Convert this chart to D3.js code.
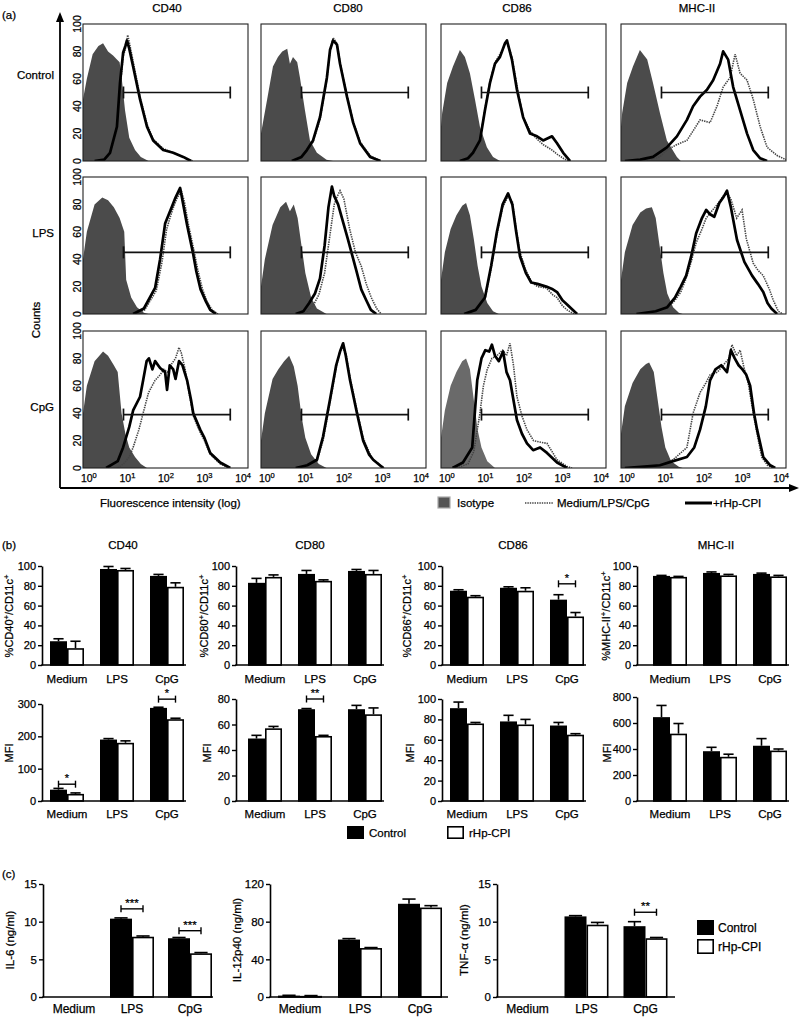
<!DOCTYPE html>
<html><head><meta charset="utf-8">
<script src="https://cdn.jsdelivr.net/npm/d3@7"></script>
<style>
body{margin:0;background:#fff;}
svg{display:block;font-family:"Liberation Sans",Arial,Helvetica,sans-serif;}
svg text{stroke:#000;stroke-width:0.25px;fill:#000;}
</style></head><body>
<svg id="fig" width="800" height="1017"></svg>
<script>
// ================= DATA =================
// (a) flow cytometry histograms: points are [log10 fluorescence, % of max counts]
const histCols = ["CD40", "CD80", "CD86", "MHC-II"];
const histRows = ["Control", "LPS", "CpG"];
const histYTicks = [0, 20, 40, 60, 80, 100];
const histXExps = [0, 1, 2, 3, 4];
const gateLevel = [50, 45, 39];      // y value of the gate marker, per row
const gateRange = [0.95, 3.72];      // log10 limits of the gate marker

// Control row
const iso_C_CD40 = [[-0.1,45],[0,60],[0.15,78],[0.3,84],[0.42,86],[0.55,80],[0.68,77],[0.78,74],[0.85,72],[0.91,59],[0.99,37],[1.1,17],[1.25,8],[1.4,3],[1.6,0]];
const med_C_CD40 = [[0.2,0],[0.45,1],[0.6,5],[0.78,22],[0.86,52],[0.94,76],[1.0,82],[1.06,92],[1.12,84],[1.22,70],[1.38,47],[1.56,27],[1.72,16],[1.98,9],[2.24,6],[2.5,3],[2.75,0]];
const hp_C_CD40  = [[0.2,0],[0.45,1],[0.6,6],[0.78,25],[0.86,57],[0.94,79],[1.0,84],[1.04,88],[1.1,82],[1.2,69],[1.38,45],[1.56,25],[1.72,15],[1.98,8],[2.24,6],[2.5,3],[2.7,0]];
const iso_C_CD80 = [[-0.1,20],[-0.05,28],[0.06,45],[0.21,69],[0.34,76],[0.45,80],[0.58,82],[0.65,71],[0.73,76],[0.84,72],[0.91,61],[1.04,37],[1.17,15],[1.35,6],[1.6,1],[1.77,0]];
const med_C_CD80 = [[0.75,0],[0.95,3],[1.09,7],[1.25,14],[1.43,30],[1.61,60],[1.69,80],[1.77,90],[1.87,86],[1.95,72],[2.13,48],[2.29,29],[2.47,14],[2.73,4],[3.0,0]];
const hp_C_CD80  = [[0.7,0],[0.95,3],[1.09,8],[1.25,15],[1.43,32],[1.61,61],[1.69,81],[1.77,88],[1.87,85],[1.95,71],[2.13,47],[2.29,28],[2.47,13],[2.73,3],[3.0,0]];
const iso_C_CD86 = [[-0.1,25],[-0.07,35],[0.06,57],[0.21,69],[0.39,81],[0.52,76],[0.65,64],[0.78,45],[0.91,25],[1.09,10],[1.25,3],[1.43,0]];
const med_C_CD86 = [[0.39,0],[0.6,2],[0.73,6],[0.91,16],[1.04,38],[1.17,58],[1.3,72],[1.43,78],[1.56,85],[1.61,87],[1.74,76],[1.87,55],[2.03,32],[2.21,22],[2.39,16],[2.55,12],[2.78,8],[2.91,5],[3.07,2],[3.2,0]];
const hp_C_CD86  = [[0.39,0],[0.6,2],[0.73,6],[0.91,15],[1.04,37],[1.17,57],[1.3,71],[1.43,76],[1.56,86],[1.61,88],[1.74,74],[1.87,52],[2.03,32],[2.21,20],[2.39,18],[2.55,15],[2.78,18],[2.91,13],[3.07,6],[3.25,0]];
const iso_C_MHC  = [[-0.1,25],[-0.07,35],[0.06,57],[0.21,69],[0.39,81],[0.58,74],[0.73,57],[0.91,35],[1.09,15],[1.35,3],[1.45,0]];
const med_C_MHC  = [[0.5,0],[0.9,3],[1.09,8],[1.35,12],[1.61,15],[1.77,22],[1.95,30],[2.21,28],[2.39,40],[2.55,54],[2.73,61],[2.86,78],[2.99,64],[3.17,59],[3.33,45],[3.51,25],[3.69,10],[3.95,4],[4.1,2],[4.18,1]];
const hp_C_MHC   = [[0,0],[0.4,1],[0.73,3],[1.09,10],[1.35,18],[1.61,30],[1.77,40],[1.95,47],[2.13,52],[2.29,59],[2.47,71],[2.55,80],[2.68,74],[2.81,54],[2.99,37],[3.17,20],[3.33,8],[3.51,2],[3.69,0]];

// LPS row
const iso_L_CD40 = [[-0.1,40],[0,60],[0.2,80],[0.4,85],[0.55,83],[0.7,78],[0.85,70],[0.97,60],[1.02,25],[1.15,12],[1.3,5],[1.48,1],[1.6,0]];
const med_L_CD40 = [[1.25,0],[1.5,3],[1.8,17],[1.95,38],[2.07,62],[2.22,76],[2.33,84],[2.45,90],[2.53,82],[2.63,66],[2.78,46],[2.88,32],[3.0,18],[3.12,9],[3.25,3],[3.4,0]];
const hp_L_CD40  = [[1.2,0],[1.48,4],[1.77,19],[1.9,40],[2.03,66],[2.2,78],[2.3,85],[2.42,92],[2.5,80],[2.6,65],[2.75,45],[2.84,31],[2.95,18],[3.09,9],[3.2,3],[3.35,0]];
const iso_L_CD80 = [[-0.1,20],[0,40],[0.2,65],[0.4,78],[0.55,82],[0.65,75],[0.75,80],[0.85,70],[0.95,50],[1.05,30],[1.2,12],[1.35,4],[1.6,0]];
const med_L_CD80 = [[0.9,0],[1.1,2],[1.25,6],[1.4,14],[1.55,30],[1.7,60],[1.8,80],[1.88,86],[1.95,90],[2.05,84],[2.2,62],[2.35,45],[2.5,35],[2.63,22],[2.76,12],[2.9,4],[3.02,0]];
const hp_L_CD80  = [[0.8,0],[1.0,2],[1.15,8],[1.3,15],[1.43,26],[1.55,50],[1.65,78],[1.74,93],[1.8,86],[1.9,80],[2.0,70],[2.15,55],[2.37,32],[2.5,18],[2.63,10],[2.75,3],[2.89,0]];
const iso_L_CD86 = [[-0.1,25],[0,45],[0.15,62],[0.3,72],[0.45,79],[0.55,81],[0.65,72],[0.75,55],[0.85,35],[0.95,20],[1.1,8],[1.25,2],[1.4,0]];
const med_L_CD86 = [[0.5,0],[0.8,3],[1.04,11],[1.2,33],[1.35,58],[1.5,78],[1.64,86],[1.75,82],[1.85,62],[1.95,45],[2.1,32],[2.24,24],[2.4,20],[2.63,19],[2.8,14],[2.91,12],[3.05,6],[3.17,3],[3.35,0]];
const hp_L_CD86  = [[0.5,0],[0.8,3],[1.04,12],[1.2,35],[1.35,60],[1.5,80],[1.64,88],[1.75,80],[1.85,60],[1.95,42],[2.1,30],[2.24,23],[2.4,22],[2.63,20],[2.8,18],[2.91,16],[3.05,10],[3.17,7],[3.43,0]];
const iso_L_MHC  = [[-0.1,25],[0,45],[0.2,65],[0.4,74],[0.55,77],[0.7,78],[0.8,70],[0.9,50],[1.0,30],[1.1,15],[1.25,5],[1.4,1],[1.5,0]];
const med_L_MHC  = [[0.3,0],[0.8,2],[1.1,4],[1.3,10],[1.45,16],[1.59,26],[1.72,38],[1.85,52],[2.0,62],[2.11,70],[2.25,75],[2.4,80],[2.55,86],[2.65,88],[2.75,84],[2.9,70],[3.04,76],[3.15,55],[3.33,37],[3.45,32],[3.59,28],[3.75,18],[3.85,10],[3.98,2],[4.1,0]];
const hp_L_MHC   = [[0.3,0],[0.8,2],[1.1,5],[1.3,12],[1.45,20],[1.59,28],[1.72,42],[1.85,59],[2.0,70],[2.11,76],[2.2,73],[2.32,71],[2.45,81],[2.55,85],[2.65,90],[2.75,78],[2.91,54],[3.1,38],[3.3,28],[3.45,22],[3.59,16],[3.7,8],[3.8,4],[3.95,0]];

// CpG row
const iso_G_CD40 = [[-0.1,40],[0,60],[0.2,78],[0.42,85],[0.55,82],[0.7,75],[0.8,70],[0.9,40],[1.0,25],[1.1,15],[1.25,8],[1.4,3],[1.56,0]];
const med_G_CD40 = [[0.8,0],[0.95,3],[1.1,8],[1.2,15],[1.35,28],[1.46,40],[1.6,55],[1.77,64],[1.9,68],[2.0,72],[2.1,70],[2.2,76],[2.3,80],[2.39,88],[2.45,84],[2.55,72],[2.65,55],[2.76,38],[2.94,26],[3.05,20],[3.2,10],[3.46,3],[3.7,0]];
const hp_G_CD40  = [[0.5,0],[0.8,5],[0.94,15],[1.1,30],[1.2,42],[1.38,52],[1.46,64],[1.55,78],[1.61,80],[1.7,72],[1.77,78],[1.9,73],[2.03,70],[2.08,57],[2.15,75],[2.24,72],[2.3,65],[2.39,78],[2.48,75],[2.6,64],[2.7,50],[2.76,40],[2.94,28],[3.05,22],[3.2,11],[3.46,4],[3.72,0]];
const iso_G_CD80 = [[-0.1,20],[0,40],[0.2,65],[0.35,72],[0.5,78],[0.63,82],[0.75,74],[0.85,60],[0.95,38],[1.05,22],[1.2,10],[1.4,3],[1.6,0]];
const med_G_CD80 = [[0.8,0],[1.1,2],[1.35,5],[1.51,20],[1.69,48],[1.85,73],[1.95,86],[2.0,88],[2.1,84],[2.21,66],[2.39,42],[2.55,22],[2.7,12],[2.81,6],[3.1,0]];
const hp_G_CD80  = [[0.8,0],[1.1,2],[1.35,6],[1.51,23],[1.69,50],[1.85,75],[1.95,85],[2.03,91],[2.1,82],[2.21,64],[2.39,40],[2.55,20],[2.7,10],[2.81,6],[3.07,0]];
const iso_G_CD86 = [[-0.1,22],[0,42],[0.15,60],[0.3,70],[0.45,78],[0.55,80],[0.65,72],[0.75,50],[0.85,28],[0.95,15],[1.1,5],[1.3,0]];
const med_G_CD86 = [[0.3,0],[0.6,3],[0.75,12],[0.91,40],[1.0,60],[1.1,72],[1.22,80],[1.35,82],[1.5,86],[1.6,82],[1.69,91],[1.78,75],[1.87,52],[2.0,38],[2.13,28],[2.3,20],[2.45,19],[2.65,18],[2.91,6],[3.17,1],[3.3,0]];
const hp_G_CD86  = [[0.2,0],[0.47,4],[0.71,15],[0.84,64],[0.95,80],[1.05,86],[1.15,85],[1.22,90],[1.3,82],[1.4,78],[1.51,85],[1.6,70],[1.69,64],[1.87,35],[2.0,25],[2.13,18],[2.29,13],[2.47,15],[2.65,11],[2.91,4],[3.17,0]];
const iso_G_MHC  = [[-0.1,25],[0,45],[0.2,62],[0.4,72],[0.55,76],[0.63,77],[0.75,70],[0.85,50],[0.95,30],[1.05,15],[1.2,5],[1.4,1],[1.5,0]];
const med_G_MHC  = [[0.5,0],[0.91,2],[1.25,6],[1.61,15],[1.77,40],[1.95,55],[2.1,62],[2.21,68],[2.4,70],[2.55,75],[2.7,80],[2.78,90],[2.9,82],[2.99,86],[3.1,72],[3.2,62],[3.3,45],[3.43,25],[3.55,8],[3.7,2],[3.85,0]];
const hp_G_MHC   = [[0,0],[0.5,1],[0.91,2],[1.25,5],[1.61,8],[1.8,15],[1.95,28],[2.1,45],[2.21,64],[2.35,72],[2.5,75],[2.65,70],[2.75,86],[2.85,80],[2.95,75],[3.05,72],[3.15,68],[3.25,60],[3.35,40],[3.43,28],[3.59,8],[3.77,2],[3.9,0]];

// (b) surface marker bar charts
const treatments = ["Medium", "LPS", "CpG"];
const markers = ["CD40", "CD80", "CD86", "MHC-II"];
const pctTicks = [0, 20, 40, 60, 80, 100];
const pctCtrl    = [[24,97,90],[83,92,95],[75,78,66],[90,93,92]];
const pctCtrlErr = [[2.5,2.5,1.5],[4.5,3.5,1.5],[1,1,5],[0.5,1,0.8]];
const pctHp      = [[17,96,79],[89,85,92],[69,75,49],[89,90.5,89.5]];
const pctHpErr   = [[7,1.5,4],[2,1,3.5],[1,3,4],[0.5,1,1]];
const mfiMax   = [300, 80, 100, 800];
const mfiTicks = [[0,100,200,300],[0,20,40,60,80],[0,20,40,60,80,100],[0,200,400,600,800]];
const mfiCtrl    = [[35,190,288],[49,72,72],[91,78,74],[645,383,425]];
const mfiCtrlErr = [[4,3,2],[2.5,0.5,3],[6,6,3],[90,30,55]];
const mfiHp      = [[22,180,253],[57,51,68],[76,75,65],[518,340,388]];
const mfiHpErr   = [[3,6,3],[1.5,0.5,5],[1,5,1],[78,20,12]];
// significance: [marker index, treatment, bracket value, label]
const pctSig = [[2, "CpG", 82, "*"]];
const mfiSig = [[0, "Medium", 52, "*"], [0, "CpG", 315, "*"], [1, "LPS", 80, "**"]];

// (c) cytokines
const cytokines = ["IL-6 (ng/ml)", "IL-12p40 (ng/ml)", "TNF-\u03b1 (ng/ml)"];
const cytoMax = [15, 120, 15];
const cytoTicks = [[0,5,10,15],[0,40,80,120],[0,5,10,15]];
const cytoCtrl    = [[0,10.4,7.8],[1.5,61,99],[0,10.7,9.4]];
const cytoCtrlErr = [[0,0.1,0.1],[0.3,1,5],[0,0.1,0.6]];
const cytoHp      = [[0,8.0,5.8],[1.2,52,95],[0,9.6,7.8]];
const cytoHpErr   = [[0,0.1,0.1],[0.3,0.5,2],[0,0.3,0.1]];
const cytoSig = [[0, "LPS", 11.7, "***"], [0, "CpG", 8.8, "***"], [2, "CpG", 11.25, "**"]];

// ================= DRAWING =================
const svg = d3.select("#fig");
const histData = [
  [[iso_C_CD40,med_C_CD40,hp_C_CD40],[iso_C_CD80,med_C_CD80,hp_C_CD80],[iso_C_CD86,med_C_CD86,hp_C_CD86],[iso_C_MHC,med_C_MHC,hp_C_MHC]],
  [[iso_L_CD40,med_L_CD40,hp_L_CD40],[iso_L_CD80,med_L_CD80,hp_L_CD80],[iso_L_CD86,med_L_CD86,hp_L_CD86],[iso_L_MHC,med_L_MHC,hp_L_MHC]],
  [[iso_G_CD40,med_G_CD40,hp_G_CD40],[iso_G_CD80,med_G_CD80,hp_G_CD80],[iso_G_CD86,med_G_CD86,hp_G_CD86],[iso_G_MHC,med_G_MHC,hp_G_MHC]]
];

function txt(x, y, s, size, anchor) {
  return svg.append("text").attr("x", x).attr("y", y).attr("font-size", size)
    .attr("text-anchor", anchor || "start").text(s);
}
function rotLabel(x, y, parts, size) {
  const t = svg.append("text").attr("transform", `translate(${x},${y}) rotate(-90)`)
    .attr("text-anchor", "middle").attr("font-size", size);
  let up = false;
  parts.forEach(p => {
    const sup = p.startsWith("^");
    const s = sup ? p.slice(1) : p;
    const ts = t.append("tspan").text(s);
    if (sup && !up) { ts.attr("dy", -4).attr("font-size", size * 0.7); up = true; }
    else if (sup) { ts.attr("font-size", size * 0.7); }
    else if (up) { ts.attr("dy", 4); up = false; }
  });
  return t;
}

// ---- (a) ----
txt(2, 19, "(a)", 11.5);
const pL = [83, 261, 441, 621], pT = [24, 177, 331], pW = 165, pH = 137;
const colTitleX = [167, 348, 517, 697];
histCols.forEach((c, i) => txt(colTitleX[i], 12, c, 11.5, "middle"));
const rowLabelY = [79, 237, 411];
histRows.forEach((r, i) => txt(54, rowLabelY[i], r, 11.5, "end"));
rotLabel(40, 320, ["Counts"], 11.5);

const defs = svg.append("defs");
histRows.forEach((row, ri) => {
  histCols.forEach((col, ci) => {
    const x = d3.scaleLinear().domain([-0.1, 4.18]).range([pL[ci], pL[ci] + pW]);
    const y = d3.scaleLinear().domain([0, 100]).range([pT[ri] + pH, pT[ri]]);
    const id = `clip${ri}${ci}`;
    defs.append("clipPath").attr("id", id).append("rect")
      .attr("x", pL[ci]).attr("y", pT[ri]).attr("width", pW).attr("height", pH);
    const [iso, med, hp] = histData[ri][ci];
    const g = svg.append("g").attr("clip-path", `url(#${id})`);
    const isoFill = (ri === 2 && ci === 2) ? "#6a6a6a" : "#4b4b4b";
    g.append("path").datum(iso)
      .attr("d", d3.area().x(d => x(d[0])).y0(y(0)).y1(d => y(d[1])))
      .attr("fill", isoFill);
    g.append("path").datum(med)
      .attr("d", d3.line().x(d => x(d[0])).y(d => y(d[1])))
      .attr("fill", "none").attr("stroke", "#444").attr("stroke-width", 1.6)
      .attr("stroke-dasharray", "1.4,1");
    g.append("path").datum(hp)
      .attr("d", d3.line().x(d => x(d[0])).y(d => y(d[1])))
      .attr("fill", "none").attr("stroke", "#000").attr("stroke-width", 2.7)
      .attr("stroke-linejoin", "round");
    // gate marker
    const gy = y(gateLevel[ri]), gx0 = x(gateRange[0]), gx1 = x(gateRange[1]);
    svg.append("line").attr("x1", gx0).attr("x2", gx1).attr("y1", gy).attr("y2", gy)
      .attr("stroke", "#111").attr("stroke-width", 1.7);
    [gx0, gx1].forEach(gx => svg.append("line").attr("x1", gx).attr("x2", gx)
      .attr("y1", gy - 6).attr("y2", gy + 6).attr("stroke", "#111").attr("stroke-width", 1.7));
    // frame
    svg.append("rect").attr("x", pL[ci]).attr("y", pT[ri]).attr("width", pW).attr("height", pH)
      .attr("fill", "none").attr("stroke", "#222").attr("stroke-width", 1.1);
    // y tick labels on first column
    if (ci === 0) {
      histYTicks.forEach(t => {
        svg.append("text").attr("transform", `translate(81,${y(t)}) rotate(-90)`)
          .attr("text-anchor", "middle").attr("font-size", 10.5).text(t);
      });
    }
    // x tick labels on last row
    if (ri === 2) {
      histXExps.forEach(e => {
        const t = svg.append("text").attr("x", x(e) + 2).attr("y", 482)
          .attr("text-anchor", "middle").attr("font-size", 10.5);
        t.append("tspan").text("10");
        t.append("tspan").text(e).attr("dy", -4.5).attr("font-size", 7.5);
      });
    }
  });
});
// big axes with arrows
svg.append("line").attr("x1", 60).attr("x2", 60).attr("y1", 20).attr("y2", 488)
  .attr("stroke", "#000").attr("stroke-width", 1.8);
svg.append("path").attr("d", "M60,12 L56,22 L64,22 Z").attr("fill", "#000");
svg.append("line").attr("x1", 60).attr("x2", 792).attr("y1", 488).attr("y2", 488)
  .attr("stroke", "#000").attr("stroke-width", 1.8);
svg.append("path").attr("d", "M799,488 L789,484 L789,492 Z").attr("fill", "#000");
txt(100, 507, "Fluorescence intensity (log)", 11.5);
// legend
svg.append("rect").attr("x", 438).attr("y", 497).attr("width", 12).attr("height", 11)
  .attr("fill", "#555").attr("stroke", "#aaa").attr("stroke-width", 1.2);
txt(457, 507, "Isotype", 11.5);
svg.append("line").attr("x1", 525).attr("x2", 553).attr("y1", 503).attr("y2", 503)
  .attr("stroke", "#444").attr("stroke-width", 1.6).attr("stroke-dasharray", "1.4,1");
txt(557, 507, "Medium/LPS/CpG", 11.5);
svg.append("line").attr("x1", 685).attr("x2", 712).attr("y1", 503).attr("y2", 503)
  .attr("stroke", "#000").attr("stroke-width", 3);
txt(713, 507, "+rHp-CPI", 11.5);

// ---- bar chart helper ----
function barChart(cfg) {
  const x = d3.scaleBand().domain(treatments).range([cfg.bandStart, cfg.bandStart + cfg.bandLen]);
  const y = d3.scaleLinear().domain([0, cfg.max]).range([cfg.y0, cfg.yTop]);
  const cx = c => x(c) + x.bandwidth() / 2;
  const bw = cfg.barW;
  const g = svg.append("g");
  treatments.forEach((c, i) => {
    const specs = [
      {v: cfg.ctrl[i], e: cfg.ctrlErr[i], x0: cx(c) - bw, fill: "#000"},
      {v: cfg.hp[i], e: cfg.hpErr[i], x0: cx(c), fill: "#fff"}
    ];
    specs.forEach(s => {
      if (s.e > 0) {
        g.append("line").attr("x1", s.x0 + bw / 2).attr("x2", s.x0 + bw / 2)
          .attr("y1", y(s.v)).attr("y2", y(s.v + s.e)).attr("stroke", "#000").attr("stroke-width", 1.6);
        g.append("line").attr("x1", s.x0 + bw / 2 - bw * 0.3).attr("x2", s.x0 + bw / 2 + bw * 0.3)
          .attr("y1", y(s.v + s.e)).attr("y2", y(s.v + s.e)).attr("stroke", "#000").attr("stroke-width", 1.6);
      }
      if (s.v > 0) {
        g.append("rect").attr("x", s.x0 + 0.8).attr("y", y(s.v) + 0.8)
          .attr("width", bw - 1.6).attr("height", Math.max(0, y(0) - y(s.v) - 0.8))
          .attr("fill", s.fill).attr("stroke", "#000").attr("stroke-width", 1.6);
      }
    });
    txt(cx(c), cfg.catY, c, cfg.catFont, "middle");
  });
  const ax = g.append("g").attr("transform", `translate(${cfg.axisX},0)`)
    .call(d3.axisLeft(y).tickValues(cfg.ticks).tickSize(4).tickSizeOuter(0).tickPadding(2));
  ax.select(".domain").attr("stroke", "#000").attr("stroke-width", 1.6);
  ax.selectAll(".tick line").attr("stroke", "#000").attr("stroke-width", 1.4);
  ax.selectAll(".tick text").attr("font-size", cfg.tickFont)
    .attr("font-family", "Liberation Sans, Arial, sans-serif");
  g.append("line").attr("x1", cfg.axisX - 0.8).attr("x2", cfg.axisEnd).attr("y1", cfg.y0).attr("y2", cfg.y0)
    .attr("stroke", "#000").attr("stroke-width", 1.6);
  (cfg.sig || []).forEach(([c, v, lab]) => {
    const x1 = cx(c) - bw / 2, x2 = cx(c) + bw / 2, yy = y(v);
    g.append("line").attr("x1", x1).attr("x2", x2).attr("y1", yy).attr("y2", yy).attr("stroke", "#000").attr("stroke-width", 1.4);
    [x1, x2].forEach(xx => g.append("line").attr("x1", xx).attr("x2", xx).attr("y1", yy - 3.5).attr("y2", yy + 3.5)
      .attr("stroke", "#000").attr("stroke-width", 1.4));
    txt(cx(c), yy - 2, lab, cfg.tickFont, "middle");
  });
}

// ---- (b) ----
txt(2, 549, "(b)", 11.5);
const bTitleX = [123, 310, 513, 716];
markers.forEach((m, i) => txt(bTitleX[i], 549, m, 11.5, "middle"));
const bAxisX = [42, 236, 442, 637];
const bBandStart = [42, 240, 442, 645];
const mfiTop = [704, 699, 699, 697];
markers.forEach((m, i) => {
  barChart({axisX: bAxisX[i], bandStart: bBandStart[i], bandLen: 150, barW: 17,
    y0: 665, yTop: 566, max: 100, ticks: pctTicks,
    ctrl: pctCtrl[i], ctrlErr: pctCtrlErr[i], hp: pctHp[i], hpErr: pctHpErr[i],
    axisEnd: bBandStart[i] + 144, catY: 683, catFont: 11.5, tickFont: 11,
    sig: pctSig.filter(s => s[0] === i).map(s => s.slice(1))});
  barChart({axisX: bAxisX[i], bandStart: bBandStart[i], bandLen: 150, barW: 17,
    y0: 801, yTop: mfiTop[i], max: mfiMax[i], ticks: mfiTicks[i],
    ctrl: mfiCtrl[i], ctrlErr: mfiCtrlErr[i], hp: mfiHp[i], hpErr: mfiHpErr[i],
    axisEnd: bBandStart[i] + 144, catY: 818, catFont: 11.5, tickFont: 11,
    sig: mfiSig.filter(s => s[0] === i).map(s => s.slice(1))});
});
const pctLabX = [13, 208, 411, 610];
const mfiLabX = [13, 211, 414, 611];
rotLabel(pctLabX[0], 616, ["%CD40", "^+", "/CD11c", "^+"], 11);
rotLabel(pctLabX[1], 616, ["%CD80", "^+", "/CD11c", "^+"], 11);
rotLabel(pctLabX[2], 616, ["%CD86", "^+", "/CD11c", "^+"], 11);
rotLabel(pctLabX[3], 616, ["%MHC-II", "^+", "/CD11c", "^+"], 11);
markers.forEach((m, i) => rotLabel(mfiLabX[i], 753, ["MFI"], 11));
svg.append("rect").attr("x", 347).attr("y", 826).attr("width", 17).attr("height", 13).attr("fill", "#000");
txt(369, 837, "Control", 11.5);
svg.append("rect").attr("x", 447.8).attr("y", 826.8).attr("width", 15.4).attr("height", 11.4)
  .attr("fill", "#fff").attr("stroke", "#000").attr("stroke-width", 1.6);
txt(469, 837, "rHp-CPI", 11.5);

// ---- (c) ----
txt(2, 878, "(c)", 11.5);
const cAxisX = [43, 270, 497];
const cBandStart = [45, 270, 498];
const cBandLen = [174, 180, 177];
const cAxisEnd = [213, 448, 675];
const cLabX = [14, 241, 468];
cytokines.forEach((c, i) => {
  barChart({axisX: cAxisX[i], bandStart: cBandStart[i], bandLen: cBandLen[i], barW: 22,
    y0: 997, yTop: 884, max: cytoMax[i], ticks: cytoTicks[i],
    ctrl: cytoCtrl[i], ctrlErr: cytoCtrlErr[i], hp: cytoHp[i], hpErr: cytoHpErr[i],
    axisEnd: cAxisEnd[i], catY: 1013, catFont: 12, tickFont: 11.5,
    sig: cytoSig.filter(s => s[0] === i).map(s => s.slice(1))});
  rotLabel(cLabX[i], 940, [c], 11.5);
});
svg.append("rect").attr("x", 697).attr("y", 920).attr("width", 17).attr("height", 15).attr("fill", "#000");
txt(718, 932, "Control", 12);
svg.append("rect").attr("x", 697.8).attr("y", 939.8).attr("width", 15.4).attr("height", 13.4)
  .attr("fill", "#fff").attr("stroke", "#000").attr("stroke-width", 1.6);
txt(718, 951, "rHp-CPI", 12);
</script></body></html>
